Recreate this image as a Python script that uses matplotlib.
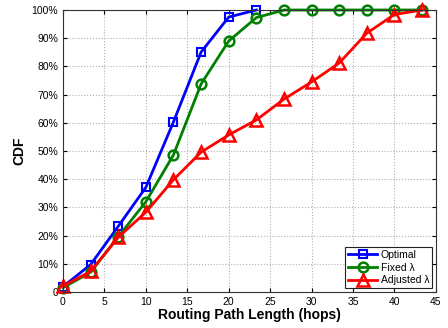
import matplotlib
matplotlib.use("Agg")
import matplotlib.pyplot as plt
import numpy as np

plt.rcParams['font.family'] = ['Liberation Sans', 'DejaVu Sans']

# Routing path length samples (hops)
hops = [0, 3.33, 6.67, 10, 13.33, 16.67, 20, 23.33, 26.67, 30, 33.33, 36.67, 40, 43.33]

# CDF values in percent
cdf_optimal = [1.9, 9.7, 23.3, 37.1, 60.3, 85.1, 97.5, 100]
cdf_fixed = [1.5, 7.0, 19.6, 32.0, 48.6, 73.8, 89.0, 97.3, 100, 100, 100, 100, 100, 100]
cdf_adjusted = [2.1, 7.3, 19.4, 28.3, 39.8, 49.6, 55.7, 61.0, 68.4, 74.5, 81.2, 91.8, 98.4, 100]

x_ticks = [0, 5, 10, 15, 20, 25, 30, 35, 40, 45]
y_ticks = [0, 10, 20, 30, 40, 50, 60, 70, 80, 90, 100]
y_tick_labels = ['0'] + [f'{v}%' for v in y_ticks[1:]]

fig = plt.figure(figsize=(4.48, 3.28), dpi=100)
ax = fig.add_axes([0.1406, 0.1098, 0.8324, 0.8597])

ax.plot(hops[:len(cdf_optimal)], cdf_optimal, color='#0000ff', lw=2,
        marker='s', ms=6, mfc='none', mew=1.5, label='Optimal', clip_on=False)
ax.plot(hops, cdf_fixed, color='#008000', lw=2,
        marker='o', ms=7, mfc='none', mew=1.8, label='Fixed λ', clip_on=False)
ax.plot(hops, cdf_adjusted, color='#ff0000', lw=2,
        marker='^', ms=8.5, mfc='none', mew=1.8, label='Adjusted λ', clip_on=False)

ax.set_xlim(0, 45)
ax.set_ylim(0, 100)
ax.set_xticks(x_ticks)
ax.set_yticks(y_ticks)
ax.set_yticklabels(y_tick_labels)
ax.tick_params(direction='in', top=True, right=True, labelsize=7.5, length=3, width=0.8)
ax.grid(True, linestyle=':', color='#b0b0b0', linewidth=0.8)
ax.set_axisbelow(True)
for s in ax.spines.values():
    s.set_color('#333333')
    s.set_linewidth(0.8)

ax.set_xlabel('Routing Path Length (hops)', fontsize=10, fontweight='bold', labelpad=1)
ax.set_ylabel('CDF', fontsize=10, fontweight='bold', labelpad=4)

leg = ax.legend(loc='lower right', fontsize=7.5, fancybox=False, framealpha=1,
                edgecolor='#222222', borderpad=0.3, labelspacing=0.25,
                handlelength=2.8, handletextpad=0.3, borderaxespad=0.35)
leg.get_frame().set_linewidth(0.8)
leg.set_zorder(5)

fig.savefig('out.png', dpi=100)
